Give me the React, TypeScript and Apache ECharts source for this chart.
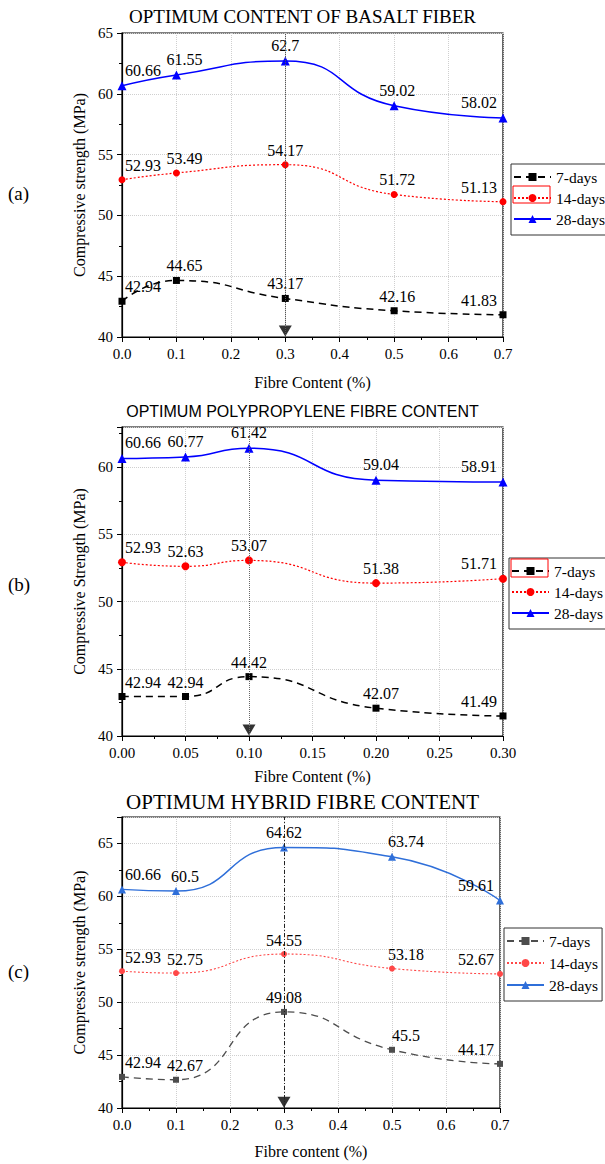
import React, { useEffect, useRef } from 'react';
import * as echarts from 'echarts';

const SERIF = 'Liberation Serif, Times New Roman, serif';
const SANS = 'Liberation Sans, Arial, sans-serif';

const seriesNames = ['7-days', '14-days', '28-days'];

// (a) basalt fibre
const basaltX = [0, 0.1, 0.3, 0.5, 0.7];
const basalt7 = [42.94, 44.65, 43.17, 42.16, 41.83];
const basalt14 = [52.93, 53.49, 54.17, 51.72, 51.13];
const basalt28 = [60.66, 61.55, 62.7, 59.02, 58.02];
const basaltOptimum = [0.3, 40.5];

// (b) polypropylene fibre
const ppX = [0, 0.05, 0.1, 0.2, 0.3];
const pp7 = [42.94, 42.94, 44.42, 42.07, 41.49];
const pp14 = [52.93, 52.63, 53.07, 51.38, 51.71];
const pp28 = [60.66, 60.77, 61.42, 59.04, 58.91];
const ppOptimum = [0.1, 40.45];

// (c) hybrid fibre
const hybridX = [0, 0.1, 0.3, 0.5, 0.7];
const hybrid7 = [42.94, 42.67, 49.08, 45.5, 44.17];
const hybrid14 = [52.93, 52.75, 54.55, 53.18, 52.67];
const hybrid28 = [60.66, 60.5, 64.62, 63.74, 59.61];
const hybridOptimum = [0.3, 40.55];

// axes
const yMinAll = 40;
const yInterval = 5;
const basaltYMax = 65;
const ppYMax = 63;
const hybridYMax = 67.5;
const basaltXMax = 0.7;
const ppXMax = 0.3;
const hybridXMax = 0.7;

type Cfg = {
  top: number;
  height: number;
  title: string;
  titleFont: string;
  titleSize: number;
  titleY: number;
  xs: number[];
  values: number[][];
  optimum: number[];
  yMax: number;
  xMax: number;
  xInterval: number;
  xDecimals: number;
  yName: string;
  xName: string;
  grid: { left: number; right: number; top: number; height: number };
  xLabelMargin: number;
  xNameGap: number;
  yNameGap: number;
  legend: { left: number; top: number; itemGap: number };
  redRect: number[] | null;
  panel: string;
  panelY: number;
  colors: string[];
  widths: number[];
  symbolSizes: number[];
  vLine: { color: string; type: any };
  labelDx: number[];
};

const charts: Cfg[] = [
  {
    top: 0,
    height: 395,
    title: 'OPTIMUM CONTENT OF BASALT FIBER',
    titleFont: SERIF,
    titleSize: 19,
    titleY: 16,
    xs: basaltX,
    values: [basalt7, basalt14, basalt28],
    optimum: basaltOptimum,
    yMax: basaltYMax,
    xMax: basaltXMax,
    xInterval: 0.1,
    xDecimals: 1,
    yName: 'Compressive strength (MPa)',
    xName: 'Fibre Content (%)',
    grid: { left: 122, right: 102, top: 33, height: 307 },
    xLabelMargin: 9,
    xNameGap: 37,
    yNameGap: 32,
    legend: { left: 511, top: 164, itemGap: 5 },
    redRect: [513, 186, 37, 17],
    panel: '(a)',
    panelY: 195,
    colors: ['#000000', '#ff0000', '#0000ff'],
    widths: [1.5, 1.2, 1.5],
    symbolSizes: [7, 7, 9],
    vLine: { color: '#555555', type: 'dotted' },
    labelDx: [3, 8, 0, 3, -6],
  },
  {
    top: 395,
    height: 395,
    title: 'OPTIMUM POLYPROPYLENE FIBRE CONTENT',
    titleFont: SANS,
    titleSize: 16,
    titleY: 16,
    xs: ppX,
    values: [pp7, pp14, pp28],
    optimum: ppOptimum,
    yMax: ppYMax,
    xMax: ppXMax,
    xInterval: 0.05,
    xDecimals: 2,
    yName: 'Compressive Strength (MPa)',
    xName: 'Fibre Content (%)',
    grid: { left: 122, right: 102, top: 32, height: 309 },
    xLabelMargin: 9,
    xNameGap: 32,
    yNameGap: 33,
    legend: { left: 509, top: 163, itemGap: 5 },
    redRect: [511, 164, 37, 18],
    panel: '(b)',
    panelY: 191,
    colors: ['#000000', '#ff0000', '#0000ff'],
    widths: [1.5, 1.2, 1.5],
    symbolSizes: [7, 8, 9],
    vLine: { color: '#666666', type: 'dotted' },
    labelDx: [3, 0, 0, 5, -6],
  },
  {
    top: 790,
    height: 374,
    title: 'OPTIMUM HYBRID FIBRE CONTENT',
    titleFont: SERIF,
    titleSize: 21,
    titleY: 12,
    xs: hybridX,
    values: [hybrid7, hybrid14, hybrid28],
    optimum: hybridOptimum,
    yMax: hybridYMax,
    xMax: hybridXMax,
    xInterval: 0.1,
    xDecimals: 1,
    yName: 'Compressive strength (MPa)',
    xName: 'Fibre content (%)',
    grid: { left: 122, right: 105, top: 27, height: 293 },
    xLabelMargin: 9,
    xNameGap: 35,
    yNameGap: 33,
    legend: { left: 504, top: 138, itemGap: 6 },
    redRect: null,
    panel: '(c)',
    panelY: 183,
    colors: ['#4d4d4d', '#ff4747', '#2f6fd9'],
    widths: [1.3, 1.1, 1.4],
    symbolSizes: [6, 6, 8],
    vLine: { color: '#222222', type: [4, 2, 1, 2] },
    labelDx: [3, 9, 0, 14, -6],
  },
];

const symbols = ['rect', 'circle', 'triangle'];
const dashes: any[] = [[7, 5], [2, 2], 'solid'];

function labelFor(i: number, n: number, dx: number[]) {
  if (i === 0) return { align: 'left', offset: [dx[i], 0] };
  if (i === n - 1) return { align: 'right', offset: [dx[i], 0] };
  return { offset: [dx[i], 0] };
}

function buildOption(c: Cfg): any {
  const series: any[] = c.values.map((vals, si) => ({
    name: seriesNames[si],
    type: 'line',
    smooth: 0.55,
    symbol: symbols[si],
    symbolSize: c.symbolSizes[si],
    showAllSymbol: true,
    data: vals.map((v, i) => ({ value: [c.xs[i], v], label: labelFor(i, vals.length, c.labelDx) })),
    lineStyle: { color: c.colors[si], width: c.widths[si], type: dashes[si] },
    itemStyle: { color: c.colors[si] },
    label: {
      show: true,
      position: 'top',
      distance: 3,
      color: '#000',
      fontSize: 16,
      fontFamily: SERIF,
      formatter: (p: any) => String(p.value[1]),
    },
    z: 3,
  }));
  series.push({
    name: 'optimum',
    type: 'scatter',
    symbol: 'triangle',
    symbolRotate: 180,
    symbolSize: [13, 11],
    itemStyle: { color: '#000' },
    data: [c.optimum],
    silent: true,
    markLine: {
      silent: true,
      symbol: 'none',
      label: { show: false },
      lineStyle: { color: c.vLine.color, type: c.vLine.type, width: 1 },
      data: [{ xAxis: c.optimum[0] }],
    },
    z: 2,
  });

  const graphic: any[] = [
    {
      type: 'text',
      left: 8,
      top: c.panelY - 11,
      style: { text: c.panel, fontSize: 19, fontFamily: SERIF, fill: '#000' },
    },
  ];
  if (c.redRect) {
    graphic.push({
      type: 'rect',
      shape: { x: c.redRect[0], y: c.redRect[1], width: c.redRect[2], height: c.redRect[3] },
      style: { fill: 'none', stroke: '#ff0000', lineWidth: 1 },
      z: 100,
    });
  }

  return {
    animation: false,
    backgroundColor: 'transparent',
    textStyle: { fontFamily: SERIF },
    title: {
      text: c.title,
      left: 'center',
      top: c.titleY - c.titleSize / 2,
      padding: 0,
      textStyle: { fontFamily: c.titleFont, fontSize: c.titleSize, fontWeight: 'normal', color: '#000' },
    },
    grid: { ...c.grid, show: true, borderColor: '#000', borderWidth: 1.2, containLabel: false },
    legend: {
      orient: 'vertical',
      left: c.legend.left,
      top: c.legend.top,
      data: seriesNames,
      borderColor: '#333',
      borderWidth: 1,
      padding: [5, 4, 8, 2],
      itemGap: c.legend.itemGap,
      itemWidth: 37,
      itemHeight: 10,
      selectedMode: false,
      textStyle: { fontFamily: SERIF, fontSize: 15.5, color: '#000', lineHeight: 14 },
    },
    xAxis: {
      type: 'value',
      min: 0,
      max: c.xMax,
      interval: c.xInterval,
      name: c.xName,
      nameLocation: 'middle',
      nameGap: c.xNameGap,
      nameTextStyle: { fontFamily: SERIF, fontSize: 16, color: '#000' },
      axisLine: { show: true, lineStyle: { color: '#000', width: 1.2 } },
      axisTick: { show: true, inside: false, length: 5, lineStyle: { color: '#000' } },
      minorTick: { show: true, splitNumber: 2, length: 3, lineStyle: { color: '#000' } },
      axisLabel: {
        margin: c.xLabelMargin,
        fontFamily: SERIF,
        fontSize: 15,
        color: '#000',
        formatter: (v: number) => v.toFixed(c.xDecimals),
      },
      splitLine: { show: true, lineStyle: { color: '#cfcfcf', type: 'dotted', width: 1 } },
    },
    yAxis: {
      type: 'value',
      min: yMinAll,
      max: c.yMax,
      interval: yInterval,
      name: c.yName,
      nameLocation: 'middle',
      nameGap: c.yNameGap,
      nameTextStyle: { fontFamily: SERIF, fontSize: 16, color: '#000' },
      axisLine: { show: true, lineStyle: { color: '#000', width: 1.2 } },
      axisTick: { show: true, inside: false, length: 5, lineStyle: { color: '#000' } },
      minorTick: { show: true, splitNumber: 2, length: 3, lineStyle: { color: '#000' } },
      axisLabel: {
        margin: 9,
        fontFamily: SERIF,
        fontSize: 15,
        color: '#000',
        showMaxLabel: c.yMax % yInterval === 0,
        formatter: (v: number) => (v % yInterval === 0 ? String(v) : ''),
      },
      splitLine: { show: true, lineStyle: { color: '#cfcfcf', type: 'dotted', width: 1 } },
    },
    series,
    graphic,
  };
}

function Chart({ cfg }: { cfg: Cfg }) {
  const ref = useRef<HTMLDivElement>(null);
  useEffect(() => {
    if (!ref.current) return;
    const chart = echarts.init(ref.current, undefined, { renderer: 'svg' });
    chart.setOption(buildOption(cfg));
    return () => chart.dispose();
  }, [cfg]);
  return (
    <div
      ref={ref}
      style={{ position: 'absolute', left: 0, top: cfg.top, width: 605, height: cfg.height }}
    />
  );
}

export default function App() {
  return (
    <div style={{ position: 'absolute', left: 0, top: 0, width: 605, height: 1164, background: '#fff', overflow: 'hidden' }}>
      {charts.map((c, i) => (
        <Chart key={i} cfg={c} />
      ))}
    </div>
  );
}
